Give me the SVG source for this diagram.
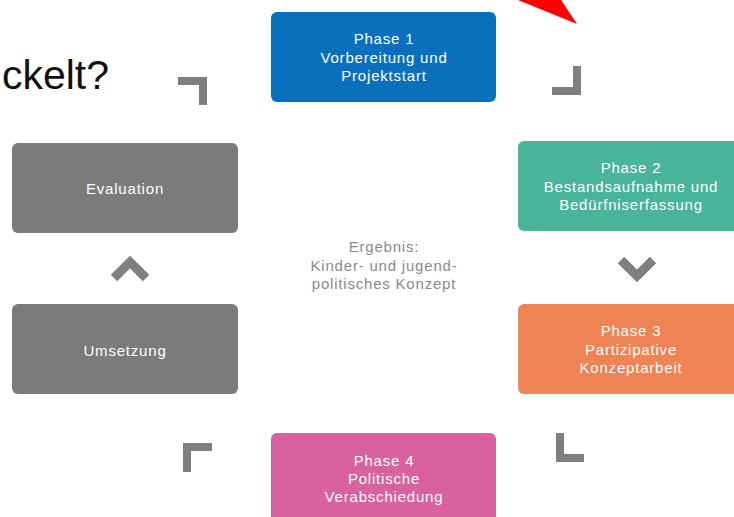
<svg xmlns="http://www.w3.org/2000/svg" width="734" height="517" viewBox="0 0 734 517">
<style>
.box{stroke:none}
.t{font-family:"Liberation Sans",Arial,sans-serif;font-size:15px;fill:#ffffff;text-anchor:middle;letter-spacing:0.8px}
.c{font-family:"Liberation Sans",Arial,sans-serif;font-size:15px;fill:#8a8a8a;text-anchor:middle;letter-spacing:0.8px}
.bar{fill:#7f7f7f}
.chev{fill:none;stroke:#7f7f7f;stroke-width:9;stroke-linejoin:miter}
</style>
<rect width="734" height="517" fill="#ffffff"/>
<text x="109" y="89" font-family="Liberation Sans, Arial, sans-serif" font-size="41" fill="#111111" text-anchor="end">ckelt?</text>
<polygon points="518,0 577,24 561,0" fill="#ff0000"/>
<g id="phase1">
<rect class="box" x="271" y="12" width="225" height="90" rx="6" fill="#0A70BE"/>
<text class="t" x="384" y="44">Phase 1</text>
<text class="t" x="384" y="62.5">Vorbereitung und</text>
<text class="t" x="384" y="81">Projektstart</text>
</g>
<g id="phase2">
<rect class="box" x="518" y="141" width="226" height="90" rx="6" fill="#48B49A"/>
<text class="t" x="631" y="173">Phase 2</text>
<text class="t" x="631" y="191.5">Bestandsaufnahme und</text>
<text class="t" x="631" y="210">Bedürfniserfassung</text>
</g>
<g id="phase3">
<rect class="box" x="518" y="304" width="226" height="90" rx="6" fill="#EE8356"/>
<text class="t" x="631" y="336">Phase 3</text>
<text class="t" x="631" y="354.5">Partizipative</text>
<text class="t" x="631" y="373">Konzeptarbeit</text>
</g>
<g id="phase4">
<rect class="box" x="271" y="433" width="225" height="100" rx="6" fill="#D9619E"/>
<text class="t" x="384" y="466">Phase 4</text>
<text class="t" x="384" y="484">Politische</text>
<text class="t" x="384" y="502">Verabschiedung</text>
</g>
<g id="umsetzung">
<rect class="box" x="12" y="304" width="226" height="90" rx="6" fill="#7B7B7B"/>
<text class="t" x="125" y="356" fill="#f2f2f2">Umsetzung</text>
</g>
<g id="evaluation">
<rect class="box" x="12" y="143" width="226" height="90" rx="6" fill="#7B7B7B"/>
<text class="t" x="125" y="194">Evaluation</text>
</g>
<g id="ergebnis">
<text class="c" x="384" y="252">Ergebnis:</text>
<text class="c" x="384" y="270.5">Kinder- und jugend-</text>
<text class="c" x="384" y="289">politisches Konzept</text>
</g>
<g id="connectors">
<path class="bar" d="M178,77 H207 V105 H199 V85 H178 Z"/>
<path class="bar" d="M573,66 H581 V95 H552 V87 H573 Z"/>
<polyline class="chev" points="621,260 637,276 653,260"/>
<path class="bar" d="M556,433 H564 V454 H584 V462 H556 Z"/>
<path class="bar" d="M183,443 H212 V451 H191 V472 H183 Z"/>
<polyline class="chev" points="114,278 130,262 146,278"/>
</g>
</svg>
